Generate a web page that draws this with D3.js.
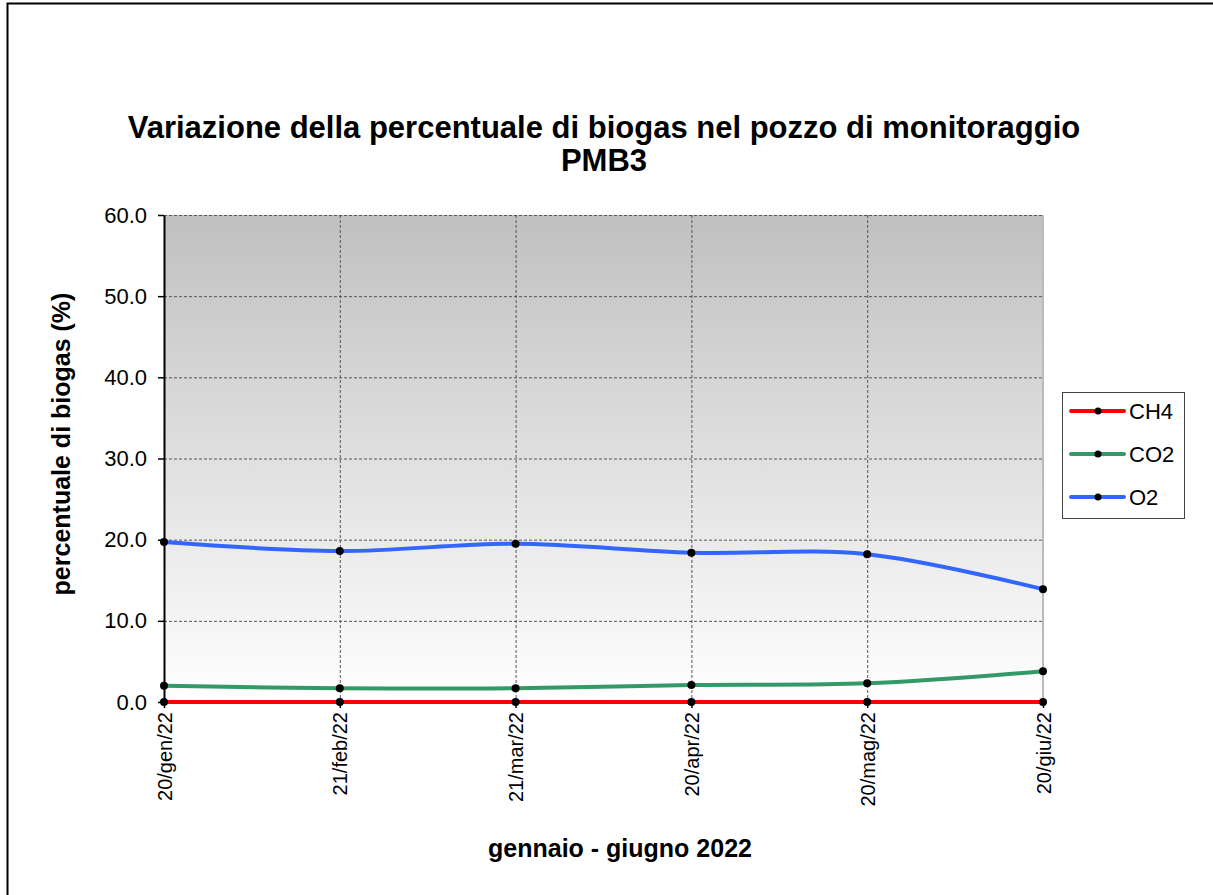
<!DOCTYPE html>
<html><head><meta charset="utf-8">
<script src="https://cdn.jsdelivr.net/npm/d3@7"></script>
<style>body{margin:0;background:#fff}svg{display:block;font-family:"Liberation Sans",Arial,sans-serif}</style>
</head><body>
<svg id="c" width="1213" height="895"></svg>
<script>
const categories = ["20/gen/22","21/feb/22","21/mar/22","20/apr/22","20/mag/22","20/giu/22"];
const ch4 = [0,0,0,0,0,0];
const co2 = [2.0,1.7,1.7,2.1,2.3,3.8];
const o2 = [19.7,18.6,19.5,18.4,18.2,13.9];
const yTicks = [0,10,20,30,40,50,60];
const seriesNames = ["CH4","CO2","O2"];
const seriesColors = ["#ff0000","#339966","#3366ff"];
const seriesData = [ch4, co2, o2];

const svg = d3.select("#c");
const L = 164, R = 1043, T = 215, B = 702;
const FF = "Liberation Sans, Arial, sans-serif";

svg.append("rect").attr("x",7.5).attr("y",3.5).attr("width",1215).attr("height",900)
  .attr("fill","none").attr("stroke","#000").attr("stroke-width",2);

const defs = svg.append("defs");
const g = defs.append("linearGradient").attr("id","bg").attr("x1",0).attr("y1",0).attr("x2",0).attr("y2",1);
g.append("stop").attr("offset","0%").attr("stop-color","#c0c0c0");
g.append("stop").attr("offset","100%").attr("stop-color","#ffffff");

const x = d3.scalePoint().domain(categories).range([L,R]);
const y = d3.scaleLinear().domain([0,60]).range([B,T]);

svg.append("rect").attr("x",L).attr("y",T).attr("width",R-L).attr("height",B-T).attr("fill","url(#bg)");

// grid
svg.append("g").selectAll("line").data(yTicks.filter(v=>v>0)).join("line")
  .attr("x1",L).attr("x2",R).attr("y1",d=>y(d)+0.5).attr("y2",d=>y(d)+0.5)
  .attr("stroke","#555").attr("stroke-dasharray","3,2").attr("stroke-width",1);
svg.append("g").selectAll("line").data(categories.slice(1,-1)).join("line")
  .attr("x1",d=>x(d)+0.5).attr("x2",d=>x(d)+0.5).attr("y1",T).attr("y2",B)
  .attr("stroke","#555").attr("stroke-dasharray","3,2").attr("stroke-width",1);
svg.append("line").attr("x1",R).attr("x2",R).attr("y1",T).attr("y2",B)
  .attr("stroke","#bbb").attr("stroke-width",2);

// axes
const ya = svg.append("g").attr("transform",`translate(${L},0)`)
  .call(d3.axisLeft(y).tickValues(yTicks).tickFormat(d3.format(".1f")).tickSize(6).tickSizeOuter(0));
ya.attr("font-size",22).attr("font-family",FF);
ya.select(".domain").attr("stroke","#000").attr("stroke-width",2);
ya.selectAll(".tick line").attr("stroke","#000").attr("stroke-width",1.5);
ya.selectAll(".tick text").attr("fill","#000").attr("x",-17);

const xa = svg.append("g").attr("transform",`translate(0,${B})`)
  .call(d3.axisBottom(x).tickSize(6).tickSizeOuter(0));
xa.attr("font-size",20).attr("font-family",FF);
xa.select(".domain").attr("stroke","#000").attr("stroke-width",2);
xa.selectAll(".tick line").attr("stroke","#000").attr("stroke-width",1.5);
xa.selectAll(".tick text").attr("fill","#000")
  .attr("transform","rotate(-90)").attr("text-anchor","end").attr("x",-10).attr("y",0).attr("dy","0.35em");

// lines
const line = d3.line().x((d,i)=>x(categories[i])).y(d=>y(d)).curve(d3.curveCatmullRom.alpha(0.5));
seriesData.forEach((s,k)=>{
  svg.append("path").datum(s).attr("d",line).attr("fill","none")
    .attr("stroke",seriesColors[k]).attr("stroke-width",4).attr("stroke-linecap","round");
});
seriesData.forEach((s,k)=>{
  svg.append("g").selectAll("circle").data(s).join("circle")
    .attr("cx",(d,i)=>x(categories[i])).attr("cy",d=>y(d)).attr("r",4).attr("fill","#000");
});

// titles
svg.append("text").attr("x",604).attr("y",138).attr("text-anchor","middle")
  .attr("font-size",31).attr("font-weight","bold").text("Variazione della percentuale di biogas nel pozzo di monitoraggio");
svg.append("text").attr("x",604).attr("y",171).attr("text-anchor","middle")
  .attr("font-size",31).attr("font-weight","bold").text("PMB3");
svg.append("text").attr("transform","translate(70,444) rotate(-90)").attr("text-anchor","middle")
  .attr("font-size",25).attr("font-weight","bold").text("percentuale di biogas (%)");
svg.append("text").attr("x",620).attr("y",857).attr("text-anchor","middle")
  .attr("font-size",25).attr("font-weight","bold").text("gennaio - giugno 2022");

// legend
svg.append("rect").attr("x",1062.5).attr("y",392.5).attr("width",122).attr("height",126)
  .attr("fill","#fff").attr("stroke","#444").attr("stroke-width",1);
seriesNames.forEach((n,k)=>{
  const yy = 411 + k*43;
  svg.append("line").attr("x1",1071).attr("x2",1124).attr("y1",yy).attr("y2",yy)
    .attr("stroke",seriesColors[k]).attr("stroke-width",4).attr("stroke-linecap","round");
  svg.append("circle").attr("cx",1098).attr("cy",yy).attr("r",3.5).attr("fill","#000");
  svg.append("text").attr("x",1129).attr("y",yy).attr("dy","0.35em").attr("font-size",22).text(n);
});
</script>
</body></html>
